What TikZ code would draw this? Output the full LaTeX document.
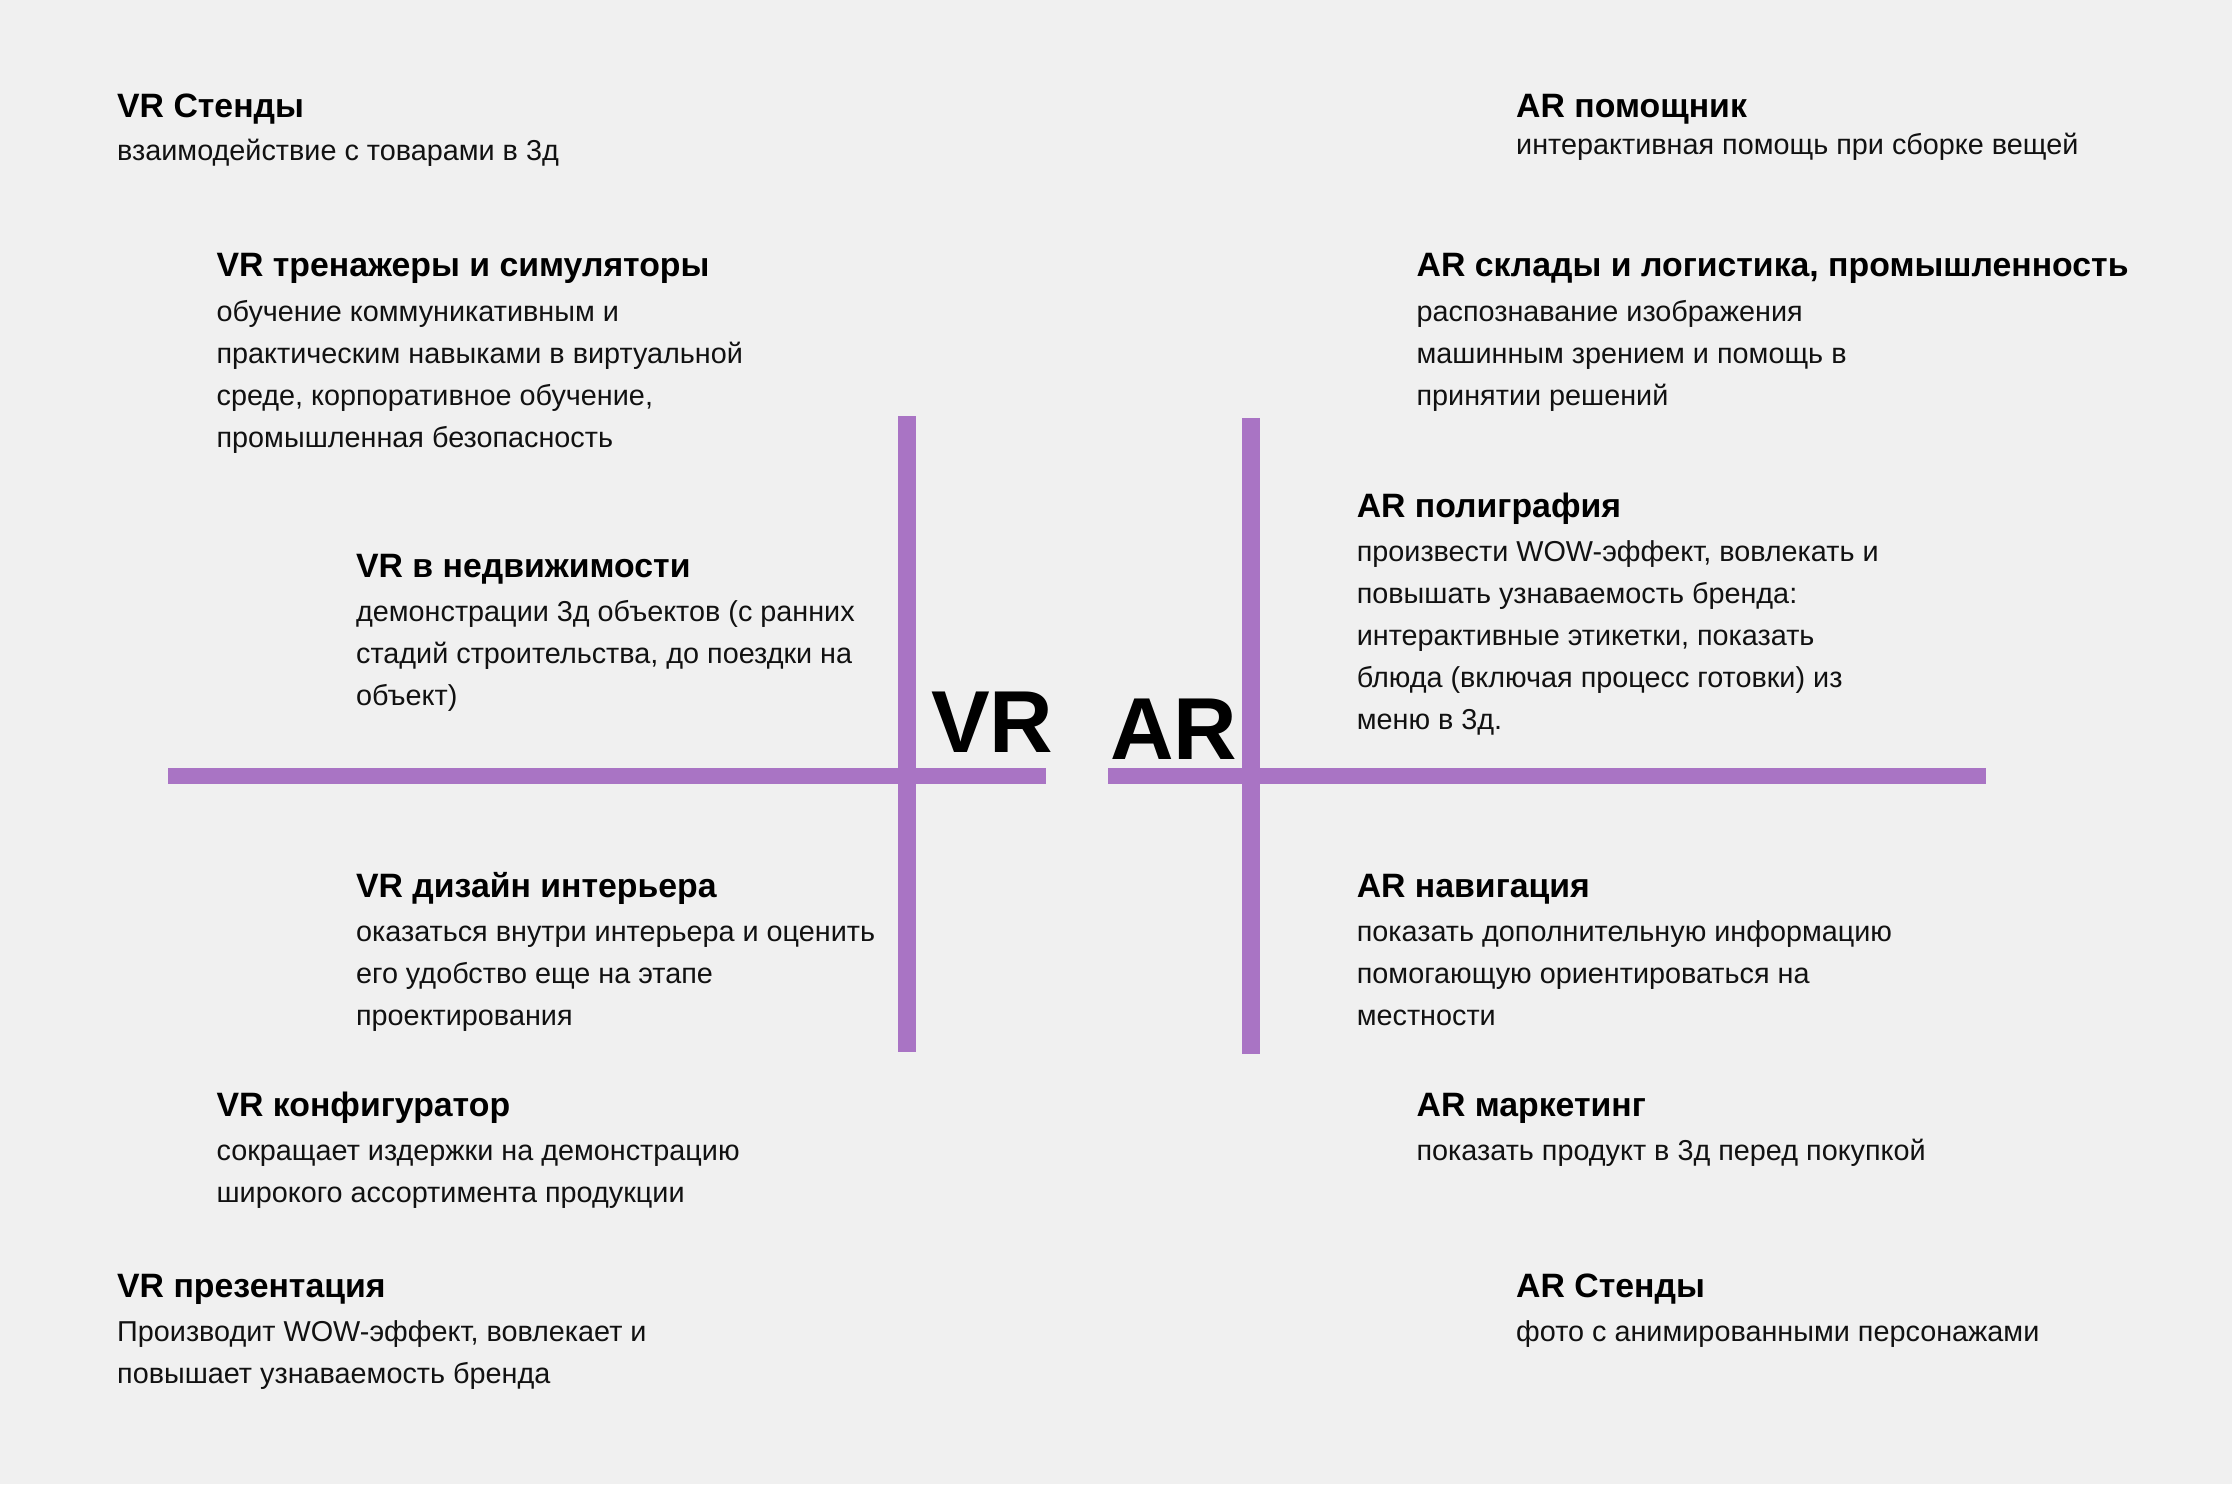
\documentclass[tikz,border=0pt]{standalone}
\usepackage{fontspec}
\setmainfont{Liberation Sans}
\definecolor{bgc}{HTML}{F0F0F0}
\definecolor{linec}{HTML}{A974C4}
\definecolor{bodyc}{HTML}{111111}
\newcommand\titlefont{\fontsize{33.8}{42}\selectfont\bfseries}
\newcommand\bodyfont{\fontsize{28.8}{42}\selectfont}
\newcommand\bl[1]{\hbox{#1}}
\newcommand\lines[1]{\vtop{\baselineskip=42pt\relax #1}}
\tikzset{
  titl/.style={anchor=base west, inner sep=0pt, font=\titlefont, text=black},
  bodyt/.style={anchor=base west, inner sep=0pt, font=\bodyfont, text=bodyc},
  big/.style={anchor=base west, inner sep=0pt, font=\fontsize{88}{88}\selectfont\bfseries, text=black},
  axis/.style={draw=none, fill=linec}
}
\begin{document}
\begin{tikzpicture}[x=1pt,y=-1pt]
\fill[bgc] (0,0) rectangle (2232,1484);
\useasboundingbox (0,0) rectangle (2232,1484);
% axes
\fill[axis] (168,768) rectangle (1046,784);
\fill[axis] (1108,768) rectangle (1986,784);
\fill[axis] (898,416) rectangle (916,1052);
\fill[axis] (1242,418) rectangle (1260,1054);
% big labels
\node[big] (vr) at (931,752) {VR};
\node[big] (ar) at (1110,759) {AR};
% VR side
\node[titl] (t1) at (117,117.4) {VR Стенды};
\node[bodyt] (b1) at (117,160.1) {\lines{\bl{взаимодействие с товарами в 3д}}};
\node[titl] (t2) at (216.4,276.9) {VR тренажеры и симуляторы};
\node[bodyt] (b2) at (216.4,321) {\lines{\bl{обучение коммуникативным и}\bl{практическим навыками в виртуальной}\bl{среде, корпоративное обучение,}\bl{промышленная безопасность}}};
\node[titl] (t3) at (355.9,577.2) {VR в недвижимости};
\node[bodyt] (b3) at (355.9,621.3) {\lines{\bl{демонстрации 3д объектов (с ранних}\bl{стадий строительства, до поездки на}\bl{объект)}}};
\node[titl] (t4) at (355.9,897.5) {VR дизайн интерьера};
\node[bodyt] (b4) at (355.9,941.6) {\lines{\bl{оказаться внутри интерьера и оценить}\bl{его удобство еще на этапе}\bl{проектирования}}};
\node[titl] (t5) at (216.4,1116.7) {VR конфигуратор};
\node[bodyt] (b5) at (216.4,1160.8) {\lines{\bl{сокращает издержки на демонстрацию}\bl{широкого ассортимента продукции}}};
\node[titl] (t6) at (117,1297.5) {VR презентация};
\node[bodyt] (b6) at (117,1341.6) {\lines{\bl{Производит WOW-эффект, вовлекает и}\bl{повышает узнаваемость бренда}}};
% AR side
\node[titl] (t7) at (1516,117.4) {AR помощник};
\node[bodyt] (b7) at (1516,154.5) {\lines{\bl{интерактивная помощь при сборке вещей}}};
\node[titl] (t8) at (1416.4,276.9) {AR склады и логистика, промышленность};
\node[bodyt] (b8) at (1416.4,321) {\lines{\bl{распознавание изображения}\bl{машинным зрением и помощь в}\bl{принятии решений}}};
\node[titl] (t9) at (1356.6,517.4) {AR полиграфия};
\node[bodyt] (b9) at (1356.6,561.6) {\lines{\bl{произвести WOW-эффект, вовлекать и}\bl{повышать узнаваемость бренда:}\bl{интерактивные этикетки, показать}\bl{блюда (включая процесс готовки) из}\bl{меню в 3д.}}};
\node[titl] (t10) at (1356.6,897.5) {AR навигация};
\node[bodyt] (b10) at (1356.6,941.6) {\lines{\bl{показать дополнительную информацию}\bl{помогающую ориентироваться на}\bl{местности}}};
\node[titl] (t11) at (1416.4,1116.7) {AR маркетинг};
\node[bodyt] (b11) at (1416.4,1160.8) {\lines{\bl{показать продукт в 3д перед покупкой}}};
\node[titl] (t12) at (1516,1297.5) {AR Стенды};
\node[bodyt] (b12) at (1516,1341.6) {\lines{\bl{фото с анимированными персонажами}}};
\end{tikzpicture}
\end{document}
